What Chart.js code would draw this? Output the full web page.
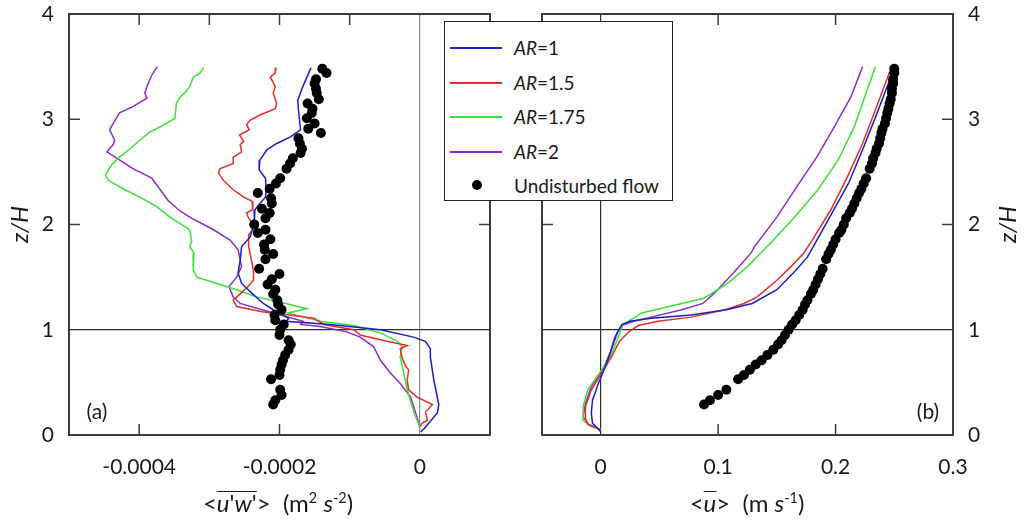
<!DOCTYPE html>
<html>
<head>
<meta charset="utf-8">
<title>Shear stress and velocity profiles</title>
<script src="https://cdn.jsdelivr.net/npm/chart.js@4.4.1/dist/chart.umd.min.js"></script>
<style>
  body { margin: 0; background: #fff; font-family: Lato, "Open Sans", sans-serif; color: #1a1a1a; }
  #wrap { position: relative; width: 1034px; height: 520px; overflow: hidden; }
  canvas { position: absolute; top: 0; }
  #left { left: 0; }
  #right { left: 520px; }
  .xtitle { position: absolute; top: 489px; height: 28px; line-height: 28px; font-size: 24px; white-space: nowrap; transform: translateX(-50%); }
  .ol { display: inline-block; line-height: 19px; border-top: 1.5px solid #1a1a1a; padding-top: 1px; }
  sup { font-size: 0.6em; vertical-align: 0.6em; line-height: 0; }
  #legend { position: absolute; left: 444px; top: 21px; width: 229px; height: 180px; box-sizing: border-box;
            border: 1.5px solid #222; background: #fff; padding-top: 8px; font-size: 19px; z-index: 2; }
  #legend .row { position: relative; height: 34.5px; }
  #legend .sw { position: absolute; left: 5px; width: 52px; top: 17px; height: 2px; }
  #legend .dot { position: absolute; left: 27px; top: 50%; width: 10px; height: 10px; margin-top: -5px; border-radius: 50%; background: #000; }
  #legend .lab { position: absolute; left: 69px; top: 50%; transform: translateY(-50%); white-space: nowrap; }
</style>
</head>
<body>
<div id="wrap">
  <canvas id="left" width="520" height="520"></canvas>
  <canvas id="right" width="514" height="520"></canvas>
  <div id="legend"></div>
  <div class="xtitle" style="left:278px">&lt;<span class="ol"><i>u</i>'<i>w</i>'</span>&gt;&nbsp;&nbsp;(m<sup>2</sup> <i>s</i><sup>-2</sup>)</div>
  <div class="xtitle" style="left:747px">&lt;<span class="ol"><i>u</i></span>&gt;&nbsp;&nbsp;(m <i>s</i><sup>-1</sup>)</div>
</div>
<script>
// series names, axis title and ticks
const arValues = ['1', '1.5', '1.75', '2'];
const zTitle = 'z/H';
const zTicks = [0, 1, 2, 3, 4];
const uwTicks = [-0.0004, -0.0002, 0];
const uwTopTicks = [-0.0004, -0.0003, -0.0002, -0.0001];
const uwBottomTicks = [-0.0004, -0.0002];
const uTicks = [0, 0.1, 0.2, 0.3];
const uInnerTicks = [0.1, 0.2];
const zSideTicks = [2, 3];

// (a) <u'w'> profiles, pairs of [value, z/H]
const uwAR1 = [[-1.55e-4,3.49],[-1.61e-4,3.40],[-1.68e-4,3.29],[-1.74e-4,3.18],[-1.73e-4,3.09],[-1.70e-4,2.90],[-1.85e-4,2.83],[-2.04e-4,2.77],[-2.18e-4,2.71],[-2.28e-4,2.61],[-2.29e-4,2.52],[-2.20e-4,2.44],[-2.19e-4,2.33],[-2.20e-4,2.26],[-2.28e-4,2.20],[-2.35e-4,2.14],[-2.36e-4,2.01],[-2.42e-4,1.88],[-2.54e-4,1.79],[-2.56e-4,1.66],[-2.59e-4,1.54],[-2.54e-4,1.44],[-2.40e-4,1.35],[-2.23e-4,1.25],[-2.09e-4,1.19],[-1.90e-4,1.12],[-1.87e-4,1.11],[-1.90e-4,1.08],[-1.28e-4,1.05],[-0.56e-4,1.00],[-0.09e-4,0.93],[0.08e-4,0.89],[0.15e-4,0.82],[0.15e-4,0.74],[0.20e-4,0.52],[0.27e-4,0.29],[0.25e-4,0.21],[0.15e-4,0.13],[0.06e-4,0.06],[0.01e-4,0.03]];
const uwAR15 = [[-2.05e-4,3.49],[-2.06e-4,3.44],[-2.13e-4,3.40],[-2.06e-4,3.31],[-2.09e-4,3.25],[-2.04e-4,3.15],[-2.06e-4,3.10],[-2.28e-4,3.04],[-2.42e-4,2.99],[-2.47e-4,2.95],[-2.43e-4,2.90],[-2.57e-4,2.85],[-2.51e-4,2.79],[-2.56e-4,2.76],[-2.54e-4,2.69],[-2.66e-4,2.64],[-2.66e-4,2.58],[-2.85e-4,2.53],[-2.87e-4,2.49],[-2.80e-4,2.42],[-2.66e-4,2.33],[-2.51e-4,2.26],[-2.39e-4,2.22],[-2.38e-4,2.14],[-2.47e-4,2.11],[-2.44e-4,2.06],[-2.35e-4,1.98],[-2.44e-4,1.90],[-2.44e-4,1.79],[-2.39e-4,1.63],[-2.37e-4,1.55],[-2.37e-4,1.47],[-2.45e-4,1.41],[-2.61e-4,1.31],[-2.66e-4,1.28],[-2.61e-4,1.22],[-2.25e-4,1.17],[-1.85e-4,1.14],[-1.51e-4,1.11],[-1.37e-4,1.05],[-0.94e-4,1.00],[-0.85e-4,0.95],[-0.47e-4,0.89],[-0.18e-4,0.85],[-0.28e-4,0.82],[-0.25e-4,0.73],[-0.20e-4,0.65],[-0.16e-4,0.62],[-0.18e-4,0.52],[-0.16e-4,0.43],[-0.04e-4,0.36],[0.18e-4,0.29],[0.08e-4,0.22],[0.11e-4,0.14],[0.03e-4,0.11],[0,0.08]];
const uwAR175 = [[-3.08e-4,3.49],[-3.13e-4,3.44],[-3.23e-4,3.40],[-3.28e-4,3.31],[-3.35e-4,3.25],[-3.42e-4,3.21],[-3.47e-4,3.15],[-3.49e-4,3.01],[-3.61e-4,2.96],[-3.75e-4,2.91],[-3.85e-4,2.88],[-3.99e-4,2.80],[-4.13e-4,2.72],[-4.28e-4,2.64],[-4.39e-4,2.57],[-4.48e-4,2.47],[-4.44e-4,2.42],[-4.23e-4,2.34],[-3.99e-4,2.26],[-3.75e-4,2.17],[-3.56e-4,2.07],[-3.42e-4,2.01],[-3.28e-4,1.95],[-3.25e-4,1.84],[-3.28e-4,1.79],[-3.22e-4,1.73],[-3.23e-4,1.57],[-3.18e-4,1.50],[-2.89e-4,1.44],[-2.61e-4,1.38],[-2.32e-4,1.31],[-2.04e-4,1.27],[-1.61e-4,1.20],[-1.88e-4,1.16],[-1.42e-4,1.08],[-0.94e-4,1.04],[-0.56e-4,0.97],[-0.32e-4,0.89],[-0.25e-4,0.84],[-0.28e-4,0.74],[-0.23e-4,0.59],[-0.18e-4,0.43],[-0.11e-4,0.27],[-0.04e-4,0.14],[0,0.08]];
const uwAR2 = [[-3.74e-4,3.50],[-3.82e-4,3.42],[-3.89e-4,3.31],[-3.92e-4,3.25],[-3.89e-4,3.20],[-4.09e-4,3.12],[-4.28e-4,3.06],[-4.37e-4,2.96],[-4.42e-4,2.90],[-4.35e-4,2.80],[-4.37e-4,2.76],[-4.46e-4,2.69],[-4.32e-4,2.63],[-4.09e-4,2.53],[-3.82e-4,2.44],[-3.70e-4,2.33],[-3.59e-4,2.23],[-3.44e-4,2.14],[-3.28e-4,2.07],[-2.94e-4,1.95],[-2.70e-4,1.85],[-2.59e-4,1.76],[-2.54e-4,1.60],[-2.61e-4,1.50],[-2.72e-4,1.41],[-2.66e-4,1.31],[-2.56e-4,1.25],[-2.09e-4,1.16],[-1.66e-4,1.08],[-1.70e-4,1.05],[-1.42e-4,1.03],[-1.04e-4,0.98],[-0.85e-4,0.93],[-0.66e-4,0.84],[-0.56e-4,0.71],[-0.42e-4,0.59],[-0.28e-4,0.49],[-0.13e-4,0.36],[-0.06e-4,0.21],[0,0.08]];

// (b) <u> profiles, pairs of [value, z/H]
const uAR1 = [[0,0.03],[-0.004,0.08],[-0.007,0.11],[-0.008,0.21],[-0.007,0.33],[-0.002,0.49],[0.004,0.65],[0.009,0.81],[0.014,0.97],[0.018,1.05],[0.025,1.08],[0.043,1.11],[0.077,1.14],[0.107,1.19],[0.129,1.25],[0.150,1.38],[0.164,1.54],[0.176,1.69],[0.181,1.79],[0.195,2.07],[0.211,2.39],[0.223,2.71],[0.234,3.02],[0.244,3.31],[0.249,3.48]];
const uAR15 = [[0,0.05],[-0.011,0.10],[-0.013,0.16],[-0.013,0.27],[-0.008,0.43],[0.001,0.59],[0.009,0.74],[0.016,0.89],[0.024,0.98],[0.032,1.04],[0.049,1.08],[0.077,1.12],[0.106,1.19],[0.122,1.25],[0.133,1.31],[0.150,1.47],[0.162,1.60],[0.173,1.73],[0.180,1.85],[0.196,2.14],[0.210,2.45],[0.223,2.77],[0.234,3.09],[0.246,3.45]];
const uAR175 = [[0,0.05],[-0.008,0.08],[-0.015,0.14],[-0.015,0.27],[-0.011,0.43],[-0.001,0.59],[0.008,0.74],[0.014,0.90],[0.019,1.05],[0.025,1.09],[0.035,1.16],[0.058,1.22],[0.088,1.30],[0.108,1.44],[0.125,1.60],[0.139,1.76],[0.147,1.85],[0.165,2.07],[0.185,2.33],[0.202,2.61],[0.216,2.93],[0.226,3.25],[0.234,3.50]];
const uAR2 = [[0,0.05],[-0.010,0.10],[-0.015,0.17],[-0.013,0.30],[-0.008,0.46],[0.001,0.60],[0.008,0.78],[0.012,0.93],[0.018,1.04],[0.028,1.08],[0.043,1.12],[0.069,1.19],[0.087,1.25],[0.097,1.35],[0.113,1.54],[0.128,1.73],[0.131,1.79],[0.150,2.07],[0.167,2.36],[0.184,2.64],[0.199,2.93],[0.213,3.21],[0.223,3.50]];

// undisturbed flow, same heights for both panels
const zFlow = [0.29,0.33,0.38,0.43,0.53,0.57,0.62,0.67,0.71,0.76,0.81,0.86,0.90,0.95,1.00,1.05,1.09,1.14,1.19,1.24,1.28,1.34,1.38,1.43,1.48,1.53,1.58,1.67,1.72,1.76,1.81,1.86,1.92,1.95,2.00,2.06,2.11,2.15,2.20,2.25,2.30,2.34,2.39,2.44,2.53,2.58,2.63,2.68,2.72,2.77,2.82,2.87,2.91,2.96,3.01,3.06,3.10,3.15,3.19,3.25,3.29,3.34,3.38,3.44,3.48];
const uwFlow = [-2.09e-4,-2.06e-4,-1.97e-4,-1.99e-4,-2.12e-4,-2.00e-4,-1.99e-4,-1.97e-4,-1.95e-4,-1.92e-4,-1.87e-4,-1.84e-4,-1.87e-4,-2.00e-4,-1.99e-4,-1.94e-4,-2.06e-4,-2.07e-4,-1.97e-4,-2.02e-4,-2.03e-4,-2.09e-4,-2.06e-4,-2.17e-4,-2.11e-4,-2.00e-4,-2.29e-4,-2.20e-4,-2.09e-4,-2.21e-4,-2.22e-4,-2.13e-4,-2.31e-4,-2.20e-4,-2.36e-4,-2.20e-4,-2.14e-4,-2.25e-4,-2.11e-4,-2.12e-4,-2.31e-4,-2.14e-4,-2.05e-4,-1.99e-4,-1.90e-4,-1.85e-4,-1.81e-4,-1.70e-4,-1.68e-4,-1.71e-4,-1.73e-4,-1.41e-4,-1.59e-4,-1.50e-4,-1.61e-4,-1.54e-4,-1.53e-4,-1.60e-4,-1.44e-4,-1.47e-4,-1.48e-4,-1.50e-4,-1.48e-4,-1.33e-4,-1.39e-4];
const uFlow = [0.088,0.093,0.100,0.107,0.117,0.122,0.127,0.132,0.137,0.142,0.147,0.151,0.154,0.157,0.160,0.163,0.166,0.169,0.172,0.174,0.176,0.179,0.181,0.183,0.185,0.187,0.189,0.192,0.194,0.196,0.198,0.200,0.203,0.205,0.207,0.209,0.212,0.214,0.216,0.218,0.220,0.222,0.224,0.226,0.229,0.231,0.232,0.234,0.235,0.237,0.238,0.239,0.240,0.242,0.243,0.244,0.245,0.246,0.247,0.248,0.248,0.249,0.249,0.250,0.250];

const colors = ['#1e1ec4', '#e0302c', '#3ee03a', '#8e2cc8'];
const ink = '#1a1a1a';
const tickFont = { family: 'Lato', size: 21 };
const titleFont = { family: 'Lato', size: 24, style: 'italic' };

function lineSet(label, pts, color) {
  return {
    label, borderColor: color, backgroundColor: color, borderWidth: 1.5,
    showLine: true, pointRadius: 0, tension: 0, order: 1,
    data: pts.map(([x, y]) => ({ x, y }))
  };
}
function dotSet(values) {
  return {
    label: 'Undisturbed flow', showLine: false, pointRadius: 5, pointHoverRadius: 5,
    backgroundColor: '#000', borderWidth: 0, order: 0,
    data: zFlow.map((z, i) => ({ x: values[i], y: z }))
  };
}

// frame, inward tick marks, panel letter (and right-hand axis title, read bottom to top)
const framePlugin = {
  id: 'frame',
  afterDraw(chart, args, o) {
    const { ctx, chartArea: a } = chart;
    const xs = chart.scales.x, ys = chart.scales.y;
    const L = 11;
    ctx.save();
    ctx.strokeStyle = '#3c3c3c';
    ctx.lineWidth = 1.5;
    ctx.beginPath();
    o.top.forEach(v => { const p = xs.getPixelForValue(v); ctx.moveTo(p, a.top); ctx.lineTo(p, a.top + L); });
    o.bottom.forEach(v => { const p = xs.getPixelForValue(v); ctx.moveTo(p, a.bottom); ctx.lineTo(p, a.bottom - L); });
    o.sides.forEach(v => {
      const p = ys.getPixelForValue(v);
      ctx.moveTo(a.left, p); ctx.lineTo(a.left + L, p);
      ctx.moveTo(a.right, p); ctx.lineTo(a.right - L, p);
    });
    ctx.stroke();
    ctx.lineWidth = 2;
    ctx.strokeRect(a.left, a.top, a.right - a.left, a.bottom - a.top);
    ctx.fillStyle = ink;
    ctx.font = '21px Lato';
    ctx.textBaseline = 'middle';
    ctx.textAlign = 'center';
    ctx.fillText(o.label, o.labelX(a), a.bottom - 23);
    if (o.sideTitle) {
      ctx.translate(chart.width - 26, (a.top + a.bottom) / 2);
      ctx.rotate(-Math.PI / 2);
      ctx.font = 'italic 24px Lato';
      ctx.fillText(o.sideTitle, 0, 0);
    }
    ctx.restore();
  }
};

function panel(canvasId, cfg) {
  return new Chart(document.getElementById(canvasId), {
    type: 'scatter',
    data: { datasets: cfg.datasets },
    options: {
      responsive: false, animation: false,
      layout: { padding: cfg.padding },
      plugins: { legend: { display: false }, tooltip: { enabled: false }, frame: cfg.frame },
      scales: {
        x: {
          type: 'linear', min: cfg.xMin, max: cfg.xMax,
          afterBuildTicks: s => { s.ticks = cfg.xTicks.map(v => ({ value: v })); },
          afterFit: s => { s.height = 85; s.paddingLeft = 0; s.paddingRight = 0; },
          border: { display: false },
          grid: { drawTicks: false, lineWidth: 1.2, color: c => (c.tick && c.tick.value === 0) ? cfg.zeroColor : 'transparent' },
          ticks: { padding: 20, color: ink, font: tickFont, maxRotation: 0, autoSkip: false, callback: v => String(v) }
        },
        y: {
          type: 'linear', min: 0, max: 4, position: cfg.yPos,
          afterBuildTicks: s => { s.ticks = zTicks.map(v => ({ value: v })); },
          afterFit: s => { s.width = cfg.yWidth; s.paddingTop = 0; s.paddingBottom = 0; },
          border: { display: false },
          grid: { drawTicks: false, lineWidth: 1.2, color: c => (c.tick && c.tick.value === 1) ? '#2c2c2c' : 'transparent' },
          ticks: { padding: cfg.yPad, color: ink, font: tickFont, callback: v => String(v) },
          title: { display: cfg.yPos === 'left', text: zTitle, color: ink, font: titleFont, padding: { top: 6, bottom: 0 } }
        }
      }
    },
    plugins: [framePlugin]
  });
}

panel('left', {
  datasets: [dotSet(uwFlow), lineSet('AR=1', uwAR1, colors[0]), lineSet('AR=1.5', uwAR15, colors[1]),
             lineSet('AR=1.75', uwAR175, colors[2]), lineSet('AR=2', uwAR2, colors[3])],
  padding: { top: 14, right: 30, left: 0, bottom: 0 },
  xMin: -0.0005, xMax: 0.0001, xTicks: uwTicks, zeroColor: '#8a8a8a',
  yPos: 'left', yWidth: 69, yPad: 15,
  frame: { top: uwTopTicks, bottom: uwBottomTicks, sides: zSideTicks, label: '(a)', labelX: a => a.left + 28 }
});

panel('right', {
  datasets: [dotSet(uFlow), lineSet('AR=1', uAR1, colors[0]), lineSet('AR=1.5', uAR15, colors[1]),
             lineSet('AR=1.75', uAR175, colors[2]), lineSet('AR=2', uAR2, colors[3])],
  padding: { top: 14, right: 0, left: 22, bottom: 0 },
  xMin: -0.05, xMax: 0.3, xTicks: uTicks, zeroColor: '#2c2c2c',
  yPos: 'right', yWidth: 81, yPad: 15,
  frame: { top: uInnerTicks, bottom: uInnerTicks, sides: zSideTicks, label: '(b)', labelX: a => a.right - 25, sideTitle: zTitle }
});

// shared legend box
const legend = document.getElementById('legend');
arValues.forEach((v, i) => {
  const row = document.createElement('div');
  row.className = 'row';
  row.innerHTML = `<div class="sw" style="background:${colors[i]}"></div><div class="lab"><i>AR</i>=${v}</div>`;
  legend.appendChild(row);
});
const flowRow = document.createElement('div');
flowRow.className = 'row';
flowRow.innerHTML = '<div class="dot"></div><div class="lab">Undisturbed flow</div>';
legend.appendChild(flowRow);
</script>
</body>
</html>
